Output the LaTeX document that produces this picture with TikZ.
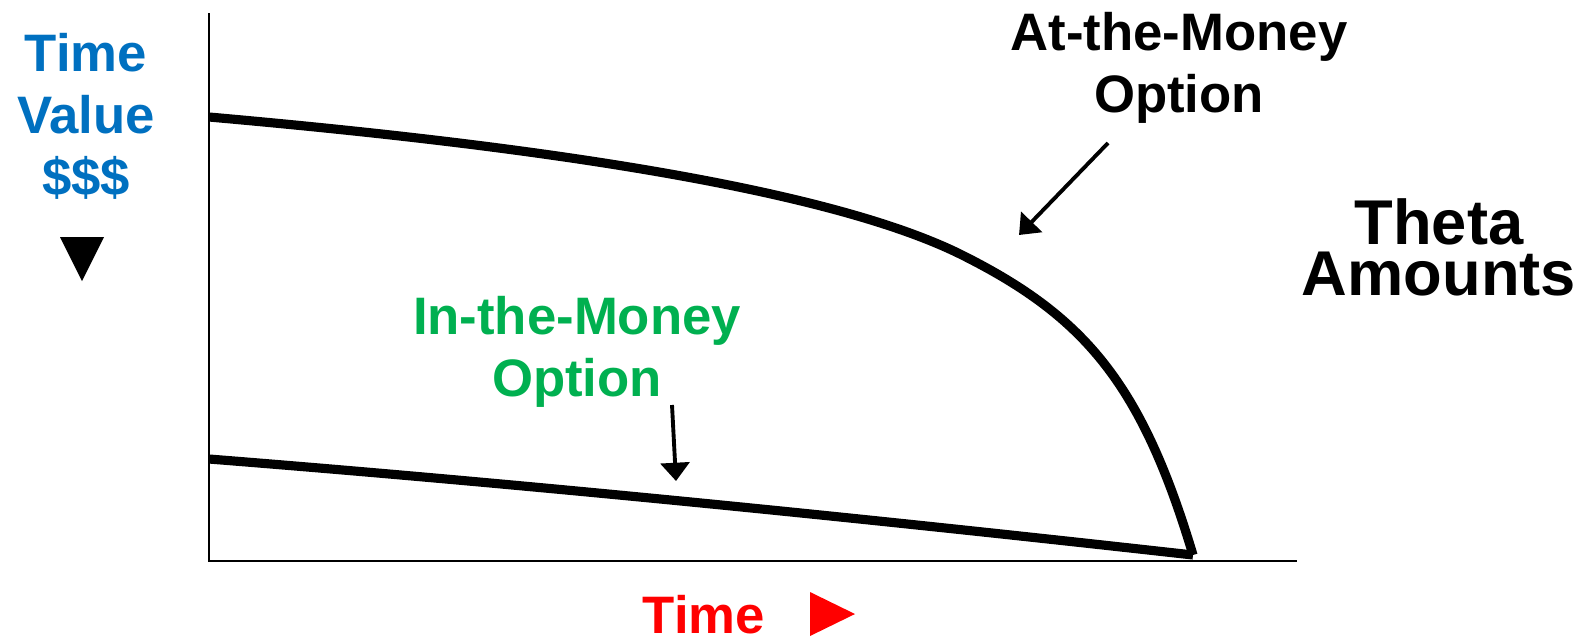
\documentclass[tikz,border=0pt]{standalone}
\usepackage{fontspec}
\setmainfont{Liberation Sans}
\usetikzlibrary{arrows.meta}
\definecolor{valblue}{HTML}{0070C0}
\definecolor{itmgreen}{HTML}{00B050}
\definecolor{timered}{HTML}{FF0000}
\begin{document}
\begin{tikzpicture}[
    lbl/.style={font=\bfseries\fontsize{15}{17.6}\selectfont, align=center, anchor=north, inner sep=0pt},
    curve/.style={line width=2.6pt, line join=round},
    pointer/.style={line width=1.1pt, -{Triangle[width=8.2pt,length=5.2pt]}}]
    \useasboundingbox (0,0) rectangle (15.83,6.40);
    % axes
    \coordinate (O) at (2.09,0.79);
    \draw[line width=0.8pt] (2.09,6.27) -- (O) -- (12.97,0.79);
    % both options expire here
    \coordinate (expiry) at (11.93,0.85);
    \coordinate (knee) at (9.62,3.85);
    \draw[curve] (2.09,5.23) .. controls (4.57,5.01) and (8.10,4.61) .. (knee)
        .. controls (10.86,3.23) and (11.42,2.55) .. (expiry);
    \draw[curve] (2.09,1.81) .. controls (5.37,1.55) and (8.62,1.22) .. (expiry);
    % labels
    \node[lbl, text=valblue] (tv) at (0.86,6.07) {Time\\Value\\\$\$\$};
    \fill (0.60,4.03) -- (1.04,4.03) -- (0.82,3.59) -- cycle;
    \node[lbl] (atm) at (11.79,6.28) {At-the-Money\\Option};
    \node[lbl, font=\bfseries\fontsize{18}{14.6}\selectfont] (theta) at (14.39,4.42) {Theta\\Amounts};
    \node[lbl, text=itmgreen] (itm) at (5.77,3.44) {In-the-Money\\Option};
    \node[lbl, text=timered] (tx) at (7.04,0.45) {Time};
    \fill[timered] (8.10,0.48) -- (8.10,0.04) -- (8.55,0.26) -- cycle;
    % pointers
    \coordinate (atmfrom) at (11.08,4.97);
    \coordinate (atmtip) at (10.19,4.05);
    \draw[pointer] (atmfrom) -- (atmtip);
    \coordinate (itmfrom) at (6.72,2.35);
    \coordinate (itmtip) at (6.76,1.59);
    \draw[pointer] (itmfrom) -- (itmtip);
\end{tikzpicture}
\end{document}
